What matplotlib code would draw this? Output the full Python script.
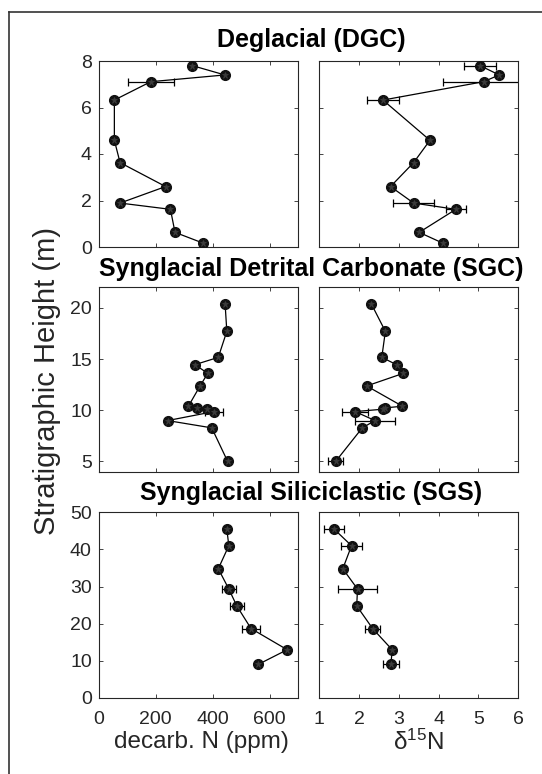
import numpy as np
import matplotlib
matplotlib.use("Agg")
import matplotlib.pyplot as plt
from matplotlib.lines import Line2D

plt.rcParams['font.family'] = ['Liberation Sans', 'DejaVu Sans']
plt.rcParams['mathtext.fontset'] = 'custom'
plt.rcParams['mathtext.rm'] = 'Liberation Sans'
plt.rcParams['mathtext.it'] = 'Liberation Sans:italic'

# ---- data ----
dgc_height = [7.8, 7.4, 7.11, 6.32, 4.59, 3.63, 2.6, 1.89, 1.62, 0.63, 0.16]
dgc_n = [329, 443, 183, 55, 55, 75, 235, 75, 252, 268, 368]
dgc_n_err = [0, 0, 80, 0, 0, 0, 0, 0, 0, 0, 0]
dgc_d15n = [5.04, 5.52, 5.13, 2.6, 3.78, 3.37, 2.79, 3.37, 4.43, 3.51, 4.11]
dgc_d15n_err = [0.4, 0, 1.02, 0.39, 0, 0, 0, 0.52, 0.25, 0, 0]

sgc_height = [20.36, 17.7, 15.16, 14.45, 13.6, 12.37, 10.39, 10.23, 10.1, 9.87, 8.99, 8.28, 5.0]
sgc_n = [444, 450, 420, 338, 383, 356, 315, 344, 379, 405, 242, 397, 453]
sgc_n_err = [0, 0, 0, 0, 0, 0, 0, 0, 0, 30, 0, 0, 0]
sgc_d15n = [2.31, 2.66, 2.57, 2.94, 3.11, 2.19, 3.09, 2.65, 2.6, 1.9, 2.4, 2.08, 1.41]
sgc_d15n_err = [0, 0, 0, 0, 0, 0, 0, 0, 0, 0.32, 0.51, 0, 0.18]

sgs_height = [45.5, 41.0, 34.8, 29.35, 24.8, 18.7, 13.0, 9.07]
sgs_n = [450, 457, 420, 457, 485, 535, 662, 561]
sgs_n_err = [0, 0, 0, 25, 25, 30, 0, 0]
sgs_d15n = [1.37, 1.81, 1.59, 1.96, 1.94, 2.34, 2.83, 2.8]
sgs_d15n_err = [0.25, 0.26, 0, 0.48, 0, 0.18, 0, 0.21]

titles = ["Deglacial (DGC)", "Synglacial Detrital Carbonate (SGC)", "Synglacial Siliciclastic (SGS)"]
n_ticks = [0, 200, 400, 600]
d15n_ticks = [1, 2, 3, 4, 5, 6]
ylims = [(0, 8), (4, 22), (0, 50)]
yticks = [[0, 2, 4, 6, 8], [5, 10, 15, 20], [0, 10, 20, 30, 40, 50]]

rows = [
    (dgc_height, dgc_n, dgc_n_err, dgc_d15n, dgc_d15n_err),
    (sgc_height, sgc_n, sgc_n_err, sgc_d15n, sgc_d15n_err),
    (sgs_height, sgs_n, sgs_n_err, sgs_d15n, sgs_d15n_err),
]

W, H = 542, 774
fig = plt.figure(figsize=(W / 100, H / 100), dpi=100)

axcol = '#262626'
row_px = [(61, 247), (287.3, 471.7), (512.3, 698)]
col_px = [(98.7, 298), (319.3, 518.3)]
title_y = [40, 269, 493]


def panel(ax, h, v, e, xlim, xt, yl, yt, show_xlab, show_ylab):
    h = np.asarray(h, float)
    v = np.asarray(v, float)
    e = np.asarray(e, float)
    m = e > 0
    ax.errorbar(v[m], h[m], xerr=e[m], fmt='none', ecolor='k', elinewidth=0.9,
                capsize=2.8, capthick=0.9, zorder=2)
    ax.plot(v, h, '-', color='k', lw=0.9, zorder=2)
    ax.plot(v, h, 'o', ms=7.0, mfc='#111111', mec='#111111', zorder=3)
    ax.plot(v, h, '*', ms=4.5, color='#3c3c3c', mew=0.5, zorder=4)
    ax.set_xlim(*xlim)
    ax.set_ylim(*yl)
    ax.set_xticks(xt)
    ax.set_yticks(yt)
    ax.tick_params(direction='in', top=True, right=True, length=3, width=0.6,
                   color=axcol, labelcolor=axcol, labelsize=14)
    ax.tick_params(axis='x', pad=9)
    ax.tick_params(axis='y', pad=5)
    if not show_xlab:
        ax.set_xticklabels([])
    if not show_ylab:
        ax.set_yticklabels([])
    for s in ax.spines.values():
        s.set_color(axcol)
        s.set_linewidth(0.8)


for r, (h, n, ne, d, de) in enumerate(rows):
    y0, y1 = row_px[r]
    for c in range(2):
        x0, x1 = col_px[c]
        ax = fig.add_axes([x0 / W, 1 - y1 / H, (x1 - x0) / W, (y1 - y0) / H])
        if c == 0:
            panel(ax, h, n, ne, (0, 700), n_ticks, ylims[r], yticks[r], r == 2, True)
        else:
            panel(ax, h, d, de, (1, 6), d15n_ticks, ylims[r], yticks[r], r == 2, False)
    fig.text(311 / W, 1 - title_y[r] / H, titles[r], ha='center', va='center',
             fontsize=18, fontweight='bold', color='k')

fig.text(201 / W, 1 - 748 / H, "decarb. N (ppm)", ha='center', va='baseline',
         fontsize=17.5, color=axcol)
fig.text(418 / W, 1 - 750 / H, "δ$^{15}$N", ha='center', va='baseline',
         fontsize=17.5, color=axcol)
fig.text(47 / W, 1 - 381 / H, "Stratigraphic Height (m)", ha='center', va='center',
         rotation=90, fontsize=21, color=axcol)

# figure border (partial frame)
fig.add_artist(Line2D([9 / W, 9 / W], [0, 1 - 12 / H], transform=fig.transFigure,
                      color='#333333', lw=1.2))
fig.add_artist(Line2D([9 / W, 1], [1 - 12 / H, 1 - 12 / H], transform=fig.transFigure,
                      color='#333333', lw=1.2))

fig.savefig("out.png", dpi=100)
